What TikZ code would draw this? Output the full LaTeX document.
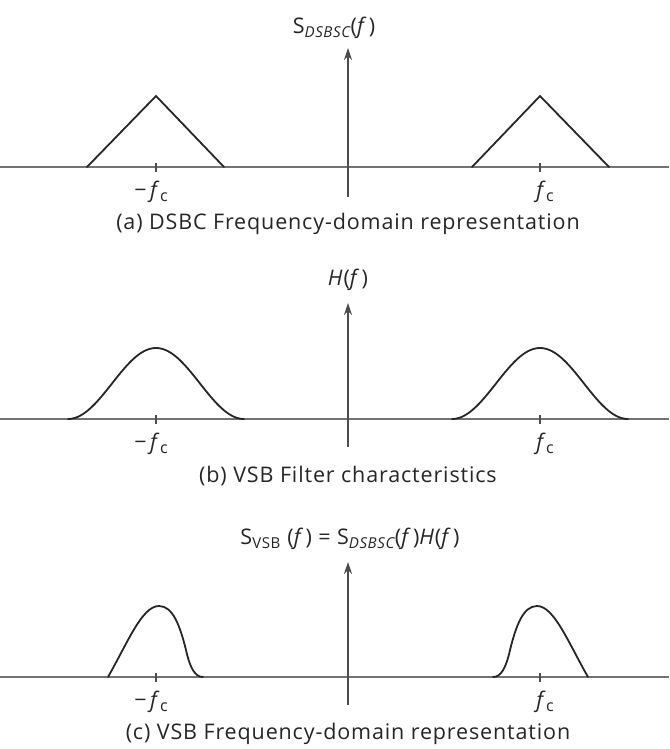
\documentclass[tikz,border=0pt]{standalone}
\usepackage{fontspec}
\setmainfont{Open Sans}[LetterSpace=4]
\usetikzlibrary{arrows.meta}
\newcommand{\ff}{\textit{f}\kern1.5pt}
\newcommand{\fsub}{\textit{f}\kern-0.5pt\raisebox{-4pt}{\fontsize{16}{16}\selectfont c}}
\begin{document}
\begin{tikzpicture}[x=1pt,y=-1pt,
  axisline/.style={line width=1.3pt, draw=black!55},
  yaxis/.style={line width=1.3pt, draw=black!70, -{Stealth[length=12pt,width=8pt]}},
  tickmark/.style={line width=1.2pt, draw=black!70},
  curve/.style={line width=1.8pt, draw=black!85, line join=round, line cap=round},
  lbl/.style={font=\fontsize{21.5}{25}\selectfont, text=black!85, inner sep=0pt},
  captext/.style={font=\fontsize{21.5}{25}\selectfont, text=black!85, inner sep=0pt}]
\useasboundingbox (0,0) rectangle (669,749);

% ---------- panel (a) ----------
\draw[axisline] (0,167) -- (669,167);
\coordinate (a0) at (348,197);
\coordinate (a1) at (348,48);
\draw[yaxis] (a0) -- (a1);
\draw[tickmark] (156,163) -- (156,172);
\draw[tickmark] (540,163) -- (540,172);
\draw[curve] (87,167) -- (156,96) -- (224,167);
\draw[curve] (472,167) -- (540,96) -- (609,167);
\node[lbl] (la) at (334,28) {S\textsubscript{\itshape DSBSC}(\ff)};
\node[lbl] (ma) at (151,192) {\textminus\,\fsub};
\node[lbl] (pa) at (545,192) {\fsub};
\node[captext] (ca) at (348,224) {(a) DSBC Frequency-domain representation};

% ---------- panel (b) ----------
\draw[axisline] (0,419) -- (669,419);
\coordinate (b0) at (348,447);
\coordinate (b1) at (348,303);
\draw[yaxis] (b0) -- (b1);
\draw[tickmark] (156,415) -- (156,424);
\draw[tickmark] (540,415) -- (540,424);
\draw[curve] plot[domain=-88:88, samples=80, smooth] ({156+\x},{419-35.5*(1+cos(180*\x/88))});
\draw[curve] plot[domain=-88:88, samples=80, smooth] ({540+\x},{419-35.5*(1+cos(180*\x/88))});
\node[lbl] (lb) at (348,280) {\textit{H}(\ff)};
\node[lbl] (mb) at (151,444) {\textminus\,\fsub};
\node[lbl] (pb) at (545,444) {\fsub};
\node[captext] (cb) at (348,476) {(b) VSB Filter characteristics};

% ---------- panel (c) ----------
\draw[axisline] (0,677) -- (669,677);
\coordinate (c0) at (348,705);
\coordinate (c1) at (348,562);
\draw[yaxis] (c0) -- (c1);
\draw[tickmark] (156,673) -- (156,682);
\draw[tickmark] (540,673) -- (540,682);
\draw[curve] (108,677) .. controls (128,642) and (142,606) .. (159,606)
  .. controls (173,606) and (180,626) .. (186,650)
  .. controls (190,668) and (195,677) .. (203,677);
\draw[curve] (588,677) .. controls (568,642) and (554,606) .. (537,606)
  .. controls (523,606) and (516,626) .. (510,650)
  .. controls (506,668) and (501,677) .. (493,677);
\node[lbl] (lc) at (350,539) {S\textsubscript{VSB} (\ff) = S\textsubscript{\itshape DSBSC}(\ff)\textit{H}(\ff)};
\node[lbl] (mc) at (151,702) {\textminus\,\fsub};
\node[lbl] (pc) at (545,702) {\fsub};
\node[captext] (cc) at (348,734) {(c) VSB Frequency-domain representation};
\end{tikzpicture}
\end{document}
